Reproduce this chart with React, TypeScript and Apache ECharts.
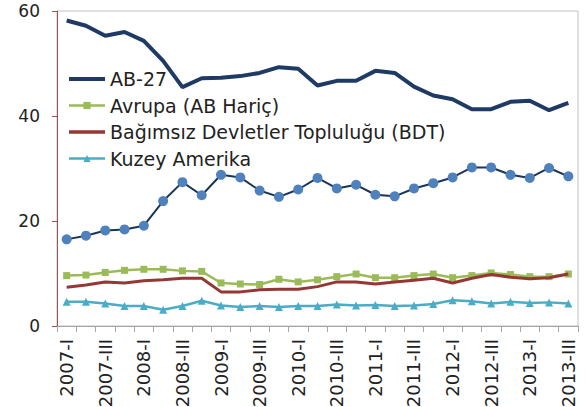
import React, { useEffect, useRef } from "react";
import * as echarts from "echarts";

const categories = [
  "2007-I", "2007-II", "2007-III", "2007-IV",
  "2008-I", "2008-II", "2008-III", "2008-IV",
  "2009-I", "2009-II", "2009-III", "2009-IV",
  "2010-I", "2010-II", "2010-III", "2010-IV",
  "2011-I", "2011-II", "2011-III", "2011-IV",
  "2012-I", "2012-II", "2012-III", "2012-IV",
  "2013-I", "2013-II", "2013-III",
];

const ab27 = [58.2, 57.2, 55.3, 56.0, 54.3, 50.5, 45.5, 47.2, 47.3, 47.6, 48.2, 49.3, 49.0, 45.8, 46.7, 46.7, 48.6, 48.2, 45.6, 43.9, 43.2, 41.3, 41.3, 42.7, 42.9, 41.1, 42.5];
const diger = [16.5, 17.2, 18.2, 18.4, 19.1, 23.8, 27.4, 24.9, 28.8, 28.3, 25.8, 24.6, 26.0, 28.2, 26.2, 26.9, 25.0, 24.7, 26.2, 27.2, 28.3, 30.2, 30.2, 28.8, 28.2, 30.1, 28.5];
const avrupa = [9.6, 9.7, 10.2, 10.6, 10.8, 10.8, 10.5, 10.4, 8.2, 8.0, 7.9, 8.9, 8.4, 8.8, 9.4, 9.9, 9.2, 9.2, 9.6, 9.9, 9.2, 9.6, 10.1, 9.8, 9.4, 9.4, 9.9];
const bdt = [7.4, 7.8, 8.4, 8.2, 8.6, 8.8, 9.1, 9.1, 6.5, 6.5, 6.9, 7.0, 7.0, 7.5, 8.4, 8.4, 8.0, 8.4, 8.7, 9.1, 8.2, 9.1, 9.8, 9.3, 9.0, 9.2, 9.9];
const kuzeyAmerika = [4.6, 4.6, 4.3, 3.8, 3.8, 3.1, 3.8, 4.8, 3.9, 3.6, 3.8, 3.6, 3.8, 3.8, 4.1, 3.9, 4.0, 3.8, 3.9, 4.2, 4.9, 4.7, 4.3, 4.6, 4.4, 4.5, 4.3];

const yTicks = [0, 20, 40, 60];

const FONT = "DejaVu Sans";

export default function App() {
  const ref = useRef<HTMLDivElement>(null);
  useEffect(() => {
    if (!ref.current) return;
    const chart = echarts.init(ref.current, undefined, { renderer: "svg" });
    chart.setOption({
      animation: false,
      textStyle: { fontFamily: FONT },
      grid: {
        left: 57, right: 9, top: 11, bottom: 81,
        outerBoundsMode: "none",
        containLabel: false,
        show: true, borderColor: "#c0c0c0", borderWidth: 1, backgroundColor: "transparent",
      },
      legend: {
        data: [
          { name: "AB-27", itemStyle: { opacity: 0 }, lineStyle: { width: 4, color: "#1f3a64" } },
          { name: "Avrupa (AB Hariç)", lineStyle: { width: 2.5, color: "#9bbb59" } },
          { name: "Bağımsız Devletler Topluluğu (BDT)", itemStyle: { opacity: 0 }, lineStyle: { width: 3.5, color: "#953735" } },
          { name: "Kuzey Amerika", lineStyle: { width: 2.5, color: "#4bacc6" } },
        ],
        orient: "vertical",
        left: 62, top: 64,
        itemWidth: 36, itemHeight: 9, itemGap: 6.5,
        textStyle: { fontFamily: FONT, fontSize: 19, lineHeight: 20, color: "#222" },
      },
      xAxis: {
        type: "category",
        data: categories,
        boundaryGap: true,
        axisLine: { show: true, lineStyle: { color: "#a6a6a6", width: 1 } },
        axisTick: { show: true, alignWithLabel: false, interval: 0, length: 6, lineStyle: { color: "#a6a6a6" } },
        axisLabel: {
          interval: 1, rotate: 90, fontFamily: FONT, fontSize: 18, color: "#222", margin: 13,
        },
        splitLine: { show: false },
      },
      yAxis: {
        type: "value",
        min: yTicks[0], max: yTicks[yTicks.length - 1], interval: 20,
        axisLine: { show: true, lineStyle: { color: "#a0504f", width: 1 } },
        axisTick: { show: true, length: 5, lineStyle: { color: "#a0504f" } },
        axisLabel: { fontFamily: FONT, fontSize: 17, lineHeight: 14, color: "#222", margin: 17 },
        splitLine: { show: false },
      },
      series: [
        {
          name: "AB-27", type: "line", data: ab27, symbol: "none",
          lineStyle: { color: "#1f3a64", width: 4 }, itemStyle: { color: "#1f3a64" }, z: 3,
        },
        {
          name: "Diğer", type: "line", data: diger, symbol: "circle", symbolSize: 10,
          lineStyle: { color: "#1a3558", width: 2 }, itemStyle: { color: "#4f81bd" }, z: 4,
        },
        {
          name: "Avrupa (AB Hariç)", type: "line", data: avrupa, symbol: "rect", symbolSize: 7,
          lineStyle: { color: "#9bbb59", width: 2.5 }, itemStyle: { color: "#9bbb59" }, z: 2,
        },
        {
          name: "Bağımsız Devletler Topluluğu (BDT)", type: "line", data: bdt, symbol: "none",
          lineStyle: { color: "#953735", width: 3 }, itemStyle: { color: "#953735" }, z: 3,
        },
        {
          name: "Kuzey Amerika", type: "line", data: kuzeyAmerika, symbol: "triangle", symbolSize: 8,
          lineStyle: { color: "#4bacc6", width: 2.5 }, itemStyle: { color: "#4bacc6" }, z: 2,
        },
      ],
    });
    return () => chart.dispose();
  }, []);
  return <div ref={ref} style={{ width: 587, height: 407, position: "absolute", left: 0, top: 0 }} />;
}
